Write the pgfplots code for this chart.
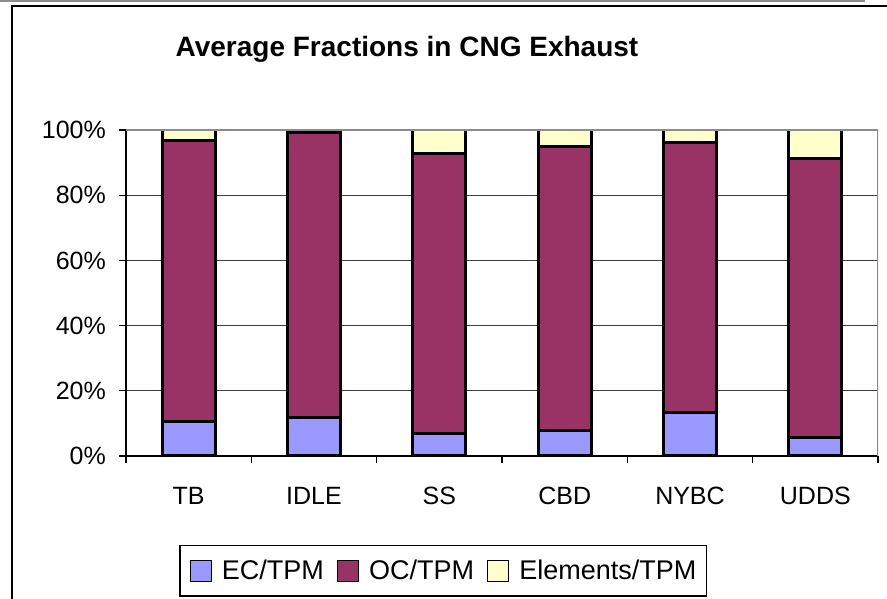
\documentclass[border=0pt]{standalone}
\usepackage{pgfplots}
\pgfplotsset{compat=1.18}
\usepackage{fontspec}
\setmainfont{Liberation Sans}
\definecolor{ecblue}{HTML}{9999FF}
\definecolor{ocplum}{HTML}{993366}
\definecolor{elcream}{HTML}{FFFFCC}
\definecolor{framegray}{HTML}{8C8C8C}

\begin{document}
\begin{tikzpicture}[x=1pt,y=1pt]
\useasboundingbox (0,0) rectangle (887,599);
% chart frame (cropped screenshot)
\draw[framegray, line width=2pt] (0,598) -- (865,598);
\draw[black, line width=2pt] (12,-10) -- (12,593) -- (900,593);
\node[font=\fontsize{28}{32}\selectfont\bfseries, anchor=base] at (407,542) {Average Fractions in CNG Exhaust};
\begin{axis}[
  at={(126pt,143pt)}, anchor=south west,
  scale only axis, width=752pt, height=326pt,
  ybar stacked, bar width=53pt,
  xmin=-0.5, xmax=5.5, ymin=0, ymax=100,
  xtick={0,...,5}, xticklabels={TB,IDLE,SS,CBD,NYBC,UDDS},
  minor xtick={-0.5,0.5,...,5.5},
  ytick={0,20,...,100}, yticklabels={0\%,20\%,40\%,60\%,80\%,100\%},
  axis x line*=bottom, axis y line*=left,
  axis line style={-, black, line width=1.5pt},
  tick align=outside, major tick length=7pt, minor tick length=7pt,
  tick style={black, line width=1.2pt},
  major x tick style={draw=none},
  ymajorgrids, grid style={black!75, line width=1pt},
  tick label style={font=\fontsize{25}{30}\selectfont},
  yticklabel style={anchor=east, inner sep=0pt, xshift=-13pt},
  xticklabel style={anchor=base, inner sep=0pt, yshift=-42pt},
  legend columns=3,
  legend style={at={(axis description cs:0.0705,-0.273)}, anchor=north west,
    draw=black, line width=1.5pt, fill=white,
    inner xsep=10pt, inner ysep=14pt,
    font=\fontsize{27}{30}\selectfont,
    nodes={inner sep=0pt},
    /tikz/every odd column/.append style={column sep=10pt},
    /tikz/every even column/.append style={column sep=13pt}},
  legend image code/.code={\draw[#1, draw=black, line width=1.2pt] (0pt,-10.5pt) rectangle (21pt,10.5pt);},
]
\draw[framegray, line width=1.5pt] (rel axis cs:0,1) -- (rel axis cs:1,1) -- (rel axis cs:1,0);
\addplot[fill=ecblue, draw=black, line width=3pt] coordinates {
  (0,10.5) (1,11.9) (2,7.0) (3,7.8) (4,13.3) (5,5.6)
};
\addplot[fill=ocplum, draw=black, line width=3pt] coordinates {
  (0,86.4) (1,87.3) (2,85.8) (3,87.0) (4,83.0) (5,85.8)
};
\addplot[fill=elcream, draw=black, line width=3pt] coordinates {
  (0,3.1) (1,0.8) (2,7.2) (3,5.2) (4,3.7) (5,8.6)
};
\legend{EC/TPM,OC/TPM,Elements/TPM}
\end{axis}
\end{tikzpicture}
\end{document}
